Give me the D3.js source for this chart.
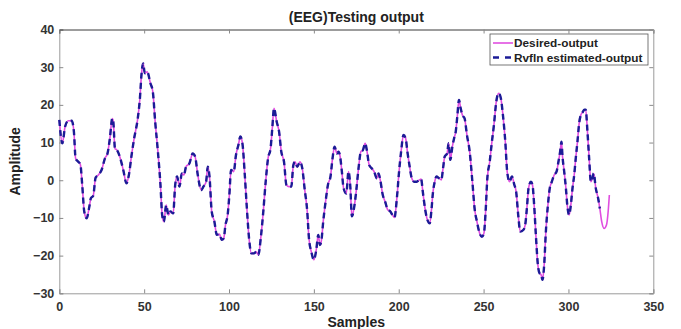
<!DOCTYPE html>
<html>
<head>
<meta charset="utf-8">
<script src="https://cdn.jsdelivr.net/npm/d3@7"></script>
<style>
  body { margin: 0; background: #fff; }
  svg text { font-family: "Liberation Sans", Arial, sans-serif; font-weight: bold; }
</style>
</head>
<body>
<div class="chart"></div>
<script>
// sample positions and amplitudes
var sampleIdx = [
  0, 1.8, 3.4, 5.3, 7.3, 8.6, 9.6, 11.2, 12.4, 13.5,
  14.7, 16.1, 17.7, 18.6, 20, 21.4, 23, 24.9, 26.9, 28.4,
  29.8, 31.2, 31.8, 32.8, 34, 35.7, 37.7, 39.6, 41, 42.6,
  44.1, 46.1, 47.5, 48.4, 49.4, 50.4, 51.8, 53.7, 55.1, 56.5,
  58.1, 59.6, 60.6, 61.6, 63, 64.3, 65.5, 67.1, 68.3, 69.4,
  70.8, 72.2, 73.4, 74.7, 76.7, 78.6, 80, 81.6, 83.6, 84.9,
  86.5, 87.5, 88.5, 89.8, 91.4, 92.8, 94.3, 95.7, 96.9, 97.9,
  99.2, 100.2, 101.2, 102.8, 104.1, 105.5, 106.7, 107.9, 109.3, 110.4,
  111.8, 113.2, 114.7, 116.1, 117.3, 118.7, 120.2, 121.6, 123, 124.5,
  125.5, 126.5, 128.1, 129.5, 130.8, 132.4, 133.8, 135.3, 136.7, 137.9,
  138.9, 140.2, 141.8, 143.2, 144.5, 146.1, 147.1, 148.5, 150, 151.4,
  152.6, 153.6, 154.5, 155.5, 156.9, 158.3, 159.8, 161, 162.2, 163.6,
  164.5, 165.5, 166.5, 167.5, 169.1, 170.4, 171.4, 172.4, 173.8, 174.9,
  176.3, 177.7, 178.9, 180.2, 181.2, 182.6, 184.2, 185.5, 187.1, 188.1,
  189.1, 190.6, 192, 193.6, 194.9, 196.3, 197.5, 198.9, 200.2, 201.4,
  202.8, 204.1, 205.1, 206.3, 207.7, 209.1, 210.6, 212.2, 213.2, 214.2,
  215.5, 216.9, 218.3, 219.2, 220.2, 221.2, 222.2, 223.8, 225.1, 226.1,
  227.1, 228.5, 229.4, 230.4, 231.6, 232.6, 233.6, 234.5, 235.5, 236.5,
  237.5, 238.8, 240.2, 241.8, 243.4, 244.7, 246.1, 247.7, 249.0, 250.2,
  251.2, 252.2, 253.6, 254.7, 256.1, 257.5, 258.9, 260.2, 261.4, 262.8,
  263.9, 265.3, 266.7, 268.1, 269.2, 270.4, 271.6, 273.4, 274.5, 275.5,
  276.5, 277.9, 278.8, 279.8, 280.8, 282.0, 283.0, 283.9, 284.7, 285.7,
  286.7, 287.9, 289.0, 290.2, 291.6, 293.0, 294.1, 295.1, 295.9, 296.5,
  297.5, 298.5, 299.4, 300.4, 301.4, 302.4, 303.4, 304.3, 305.3, 306.3,
  307.3, 308.3, 309.4, 310.2, 311.2, 312.2, 313.2, 314.1, 314.9, 316.1,
  317.5, 318.5, 319.6, 321.0, 322.4, 323.4, 324.1
];
var desiredOut = [
  16, 9.8, 14.2, 15.8, 15.8, 12.9, 5.8, 4.9, 4.2, -1.2,
  -8.3, -10.1, -7.0, -4.8, -4.1, 0.7, 1.4, 2.7, 5.8, 7.1,
  11.1, 16.4, 15.6, 8.4, 8.0, 6.2, 2.7, -0.8, 1.4, 6.7,
  11.1, 16, 21.7, 27.9, 31.0, 28.4, 28.8, 25.7, 23.5, 15.5,
  7.6, -1.2, -9.2, -11, -6.6, -9.2, -8.3, -8.8, -1.2, 1.0,
  -1.7, 1.8, 1.4, 3.6, 4.5, 7.1, 6.3, 1.4, -2.6, -1.7,
  -0.4, 3.6, 1.0, -8.3, -11, -14.5, -14.3, -15.8, -15.4, -11.9,
  -9.2, -3.9, 2.7, 2.3, 6.7, 9.3, 11.6, 9.8, 1.4, -6.6,
  -15.4, -19.4, -19.4, -19, -19.8, -15.4, -8.3, -0.4, 5.8, 8.5,
  13.8, 19.1, 15.5, 12.9, 7.6, 4.9, -1.2, -1.7, -1.7, 4.0,
  4.9, 3.6, 4.9, 3.1, -2.1, -8.3, -15.4, -19, -21.1, -18.5,
  -14.5, -17.2, -15.8, -11, -5.7, -1.2, 1.0, 5.8, 8.9, 7.1,
  7.6, 6.2, 2.3, -2.1, -3.5, 2.3, -1.2, -9.6, -7.0, -3.1,
  3.1, 7.6, 8.0, 9.8, 8.0, 4.0, 3.1, 2.3, 0.5, 1.8,
  0.1, -3.9, -5.7, -7.9, -8.2, -9.2, -9.9, -4.8, 2.3, 7.6,
  12.0, 11.1, 7.6, 4.0, 0.5, -0.4, -0.4, 0.1, 0.3, -3.1,
  -7.5, -10.5, -11.4, -8.3, -3.1, -0.4, 1.0, 0.5, 0.1, 3.1,
  6.3, 7.1, 9.8, 5.4, 8.9, 11.1, 12.9, 16.9, 21.3, 19.1,
  17.3, 16.4, 12.0, 7.6, -0.4, -7.5, -11, -14.1, -15.0, -14.1,
  -8.3, 0.5, 4.9, 9.4, 14.7, 20.9, 23.1, 21.7, 17.3, 10.2,
  2.3, -0.4, 1.0, -1.2, -3.1, -9.2, -13.6, -13.2, -11.9, -7.5,
  -2.1, -0.4, -1.2, -6.6, -14.5, -22.5, -24.7, -25.1, -26.4, -22.5,
  -13.6, -6.6, -2.1, -0.4, 1.4, 2.3, 4.9, 7.6, 10.2, 6.3,
  2.3, -2.1, -7.0, -9.2, -6.6, -2.1, 1.4, 5.8, 10.2, 15.1,
  17.3, 18.0, 18.7, 18.7, 12.9, 5.8, -0.4, 0.5, 1.8, -2.1,
  -4.8, -7.5, -11, -12.8, -11.9, -8.3, -3.9
];
// the estimated (dashed) trace lies on top of the desired one and stops a bit earlier
var estimatedEnd = 318.5;
var estimatedOut = desiredOut.filter(function (v, i) { return sampleIdx[i] <= estimatedEnd; });

var xTicks = [0, 50, 100, 150, 200, 250, 300, 350];
var yTicks = [-30, -20, -10, 0, 10, 20, 30, 40];
var seriesNames = ['Desired-output', 'Rvfln estimated-output'];

var margin = { top: 29.5, right: 27.7, bottom: 35.7, left: 59.3 };
var width = 681 - margin.left - margin.right;
var height = 329 - margin.top - margin.bottom;

var svg = d3.select('.chart')
  .append('svg')
    .attr('width', 681)
    .attr('height', 329);

var g = svg.append('g')
    .attr('transform', `translate(${margin.left}, ${margin.top})`);

var xScale = d3.scaleLinear().domain([0, 350]).range([0, width]);
var yScale = d3.scaleLinear().domain([-30, 40]).range([height, 0]);

// axes (MATLAB style: ticks inward, box on)
var xAxis = d3.axisBottom(xScale).tickValues(xTicks).tickSize(-4).tickPadding(9).tickFormat(d3.format('d'));
var yAxis = d3.axisLeft(yScale).tickValues(yTicks).tickSize(-4).tickPadding(5).tickFormat(d3.format('d'));
var xTop = d3.axisTop(xScale).tickValues(xTicks).tickSize(-4).tickFormat('');
var yRight = d3.axisRight(yScale).tickValues(yTicks).tickSize(-4).tickFormat('');

g.append('g').attr('transform', `translate(0, ${height})`).call(xAxis).attr('class', 'ax');
g.append('g').call(yAxis).attr('class', 'ax');
g.append('g').call(xTop).attr('class', 'ax top');
g.append('g').attr('transform', `translate(${width}, 0)`).call(yRight).attr('class', 'ax');

g.selectAll('.ax .domain').attr('stroke', '#9a9a9a').attr('stroke-width', 1);
g.selectAll('.ax.top .domain').attr('stroke', '#3a3a3a');
g.selectAll('.ax .tick line').attr('stroke', '#8a8a8a');
g.selectAll('.ax text').attr('font-size', '12.5px').attr('fill', '#333').attr('font-family', '"Liberation Sans", Arial, sans-serif');

var line = d3.line()
  .x(function (d) { return xScale(d[0]); })
  .y(function (d) { return yScale(d[1]); })
  .curve(d3.curveMonotoneX);

var desiredPts = sampleIdx.map(function (s, i) { return [s, desiredOut[i]]; });
var estimatedPts = estimatedOut.map(function (v, i) { return [sampleIdx[i], v]; });

g.append('path')
  .datum(desiredPts)
  .attr('d', line)
  .attr('fill', 'none')
  .attr('stroke', '#e04ee0')
  .attr('stroke-width', 1.6);

g.append('path')
  .datum(estimatedPts)
  .attr('d', line)
  .attr('fill', 'none')
  .attr('stroke', '#1b1b96')
  .attr('stroke-width', 2.4)
  .attr('stroke-dasharray', '6,4');

// title and axis labels
svg.append('text')
  .attr('x', margin.left + width / 2)
  .attr('y', 22)
  .attr('text-anchor', 'middle')
  .attr('font-size', '14px')
  .attr('fill', '#222')
  .text('(EEG)Testing output');

svg.append('text')
  .attr('x', margin.left + width / 2)
  .attr('y', 327)
  .attr('text-anchor', 'middle')
  .attr('font-size', '14px')
  .attr('fill', '#222')
  .text('Samples');

svg.append('text')
  .attr('transform', `translate(20, ${margin.top + height / 2}) rotate(-90)`)
  .attr('text-anchor', 'middle')
  .attr('font-size', '14px')
  .attr('fill', '#222')
  .text('Amplitude');

// legend
var legend = svg.append('g').attr('transform', 'translate(490, 34)');
legend.append('rect')
  .attr('width', 158)
  .attr('height', 31)
  .attr('fill', '#fff')
  .attr('stroke', '#555')
  .attr('stroke-width', 0.8);

legend.append('line')
  .attr('x1', 3).attr('x2', 23).attr('y1', 9).attr('y2', 9)
  .attr('stroke', '#e04ee0').attr('stroke-width', 1.6);
legend.append('line')
  .attr('x1', 3).attr('x2', 23).attr('y1', 23.5).attr('y2', 23.5)
  .attr('stroke', '#1b1b96').attr('stroke-width', 2.4).attr('stroke-dasharray', '6,6');

legend.selectAll('text.lab')
  .data(seriesNames)
  .enter().append('text')
    .attr('class', 'lab')
    .attr('x', 24)
    .attr('y', function (d, i) { return 13 + i * 14.5; })
    .attr('font-size', '11.8px')
    .attr('fill', '#222')
    .text(function (d) { return d; });
</script>
</body>
</html>
